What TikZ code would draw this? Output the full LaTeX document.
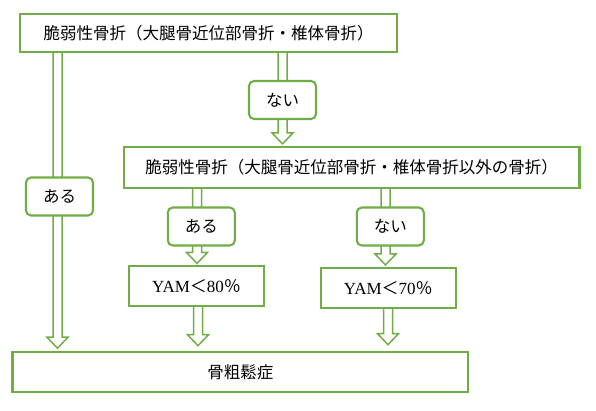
\documentclass[tikz,border=0pt]{standalone}
\usepackage{fontspec}
\setmainfont{Liberation Serif}
\newfontfamily\jp{Noto Sans CJK JP}
\usetikzlibrary{calc,backgrounds}
\definecolor{fgreen}{HTML}{70AD47}
\tikzset{
  mainbox/.style={draw=fgreen, line width=2.1pt, fill=white, inner sep=0pt,
    font=\fontsize{16.5}{19}\selectfont\jp},
  labelbox/.style={draw=fgreen, line width=2.1pt, fill=white, rounded corners=5pt,
    inner sep=0pt, minimum width=67pt, minimum height=38pt,
    font=\fontsize{16.5}{19}\selectfont\jp},
  arrowline/.style={draw=fgreen, line width=1.5pt, fill=white, line join=miter}
}
\newcommand\hollowarrow[2]{%
  \draw[arrowline] let \p1=(#1), \p2=(#2) in
    (\x1-4.5pt,\y1) -- (\x1-4.5pt,\y2+11pt) -- (\x1-10.5pt,\y2+11pt) --
    (\x1,\y2) -- (\x1+10.5pt,\y2+11pt) -- (\x1+4.5pt,\y2+11pt) -- (\x1+4.5pt,\y1);}
\begin{document}
\begin{tikzpicture}[x=1pt,y=-1pt]
\useasboundingbox (0,0) rectangle (596,411);
% main boxes
\node[mainbox, minimum width=377pt, minimum height=38pt] (top) at (208.5,33)
  {脆弱性骨折（大腿骨近位部骨折・椎体骨折）};
\node[mainbox, minimum width=455.5pt, minimum height=40.5pt] (second) at (351.7,167.7)
  {脆弱性骨折（大腿骨近位部骨折・椎体骨折以外の骨折）};
\node[mainbox, minimum width=135pt, minimum height=40pt, font=\fontsize{17}{19}\selectfont\jp] (yam80) at (196.5,286)
  {{\rmfamily YAM}＜{\rmfamily 80}％};
\node[mainbox, minimum width=135.3pt, minimum height=40pt, font=\fontsize{17}{19}\selectfont\jp] (yam70) at (388.3,288)
  {{\rmfamily YAM}＜{\rmfamily 70}％};
\node[mainbox, minimum width=455.8pt, minimum height=40.3pt] (bottom) at (240.4,371.9)
  {骨粗鬆症};
% label boxes
\node[labelbox] (nai1) at (282.5,100) {ない};
\node[labelbox] (aru1) at (59.5,196.5) {ある};
\node[labelbox] (aru2) at (201.3,226.5) {ある};
\node[labelbox] (nai2) at (390.3,226.5) {ない};
% connectors
\begin{scope}[on background layer]
  \hollowarrow{top.south -| nai1}{$(second.north -| nai1)+(0,-2.5)$}
  \hollowarrow{$(top.south -| aru1)+(-2,0)$}{$(bottom.north -| aru1)+(-2,-2.5)$}
  \hollowarrow{$(second.south -| aru2)+(-4.3,0)$}{$(yam80.north -| aru2)+(-4.3,-1.5)$}
  \hollowarrow{$(second.south -| nai2)+(-4.8,0)$}{$(yam70.north -| nai2)+(-4.8,-2)$}
  \hollowarrow{$(yam80.south)+(1.5,0)$}{$(bottom.north -| yam80)+(1.5,-5)$}
  \hollowarrow{$(yam70.south)+(-0.3,0)$}{$(bottom.north -| yam70)+(-0.3,-6)$}
\end{scope}
\end{tikzpicture}
\end{document}
